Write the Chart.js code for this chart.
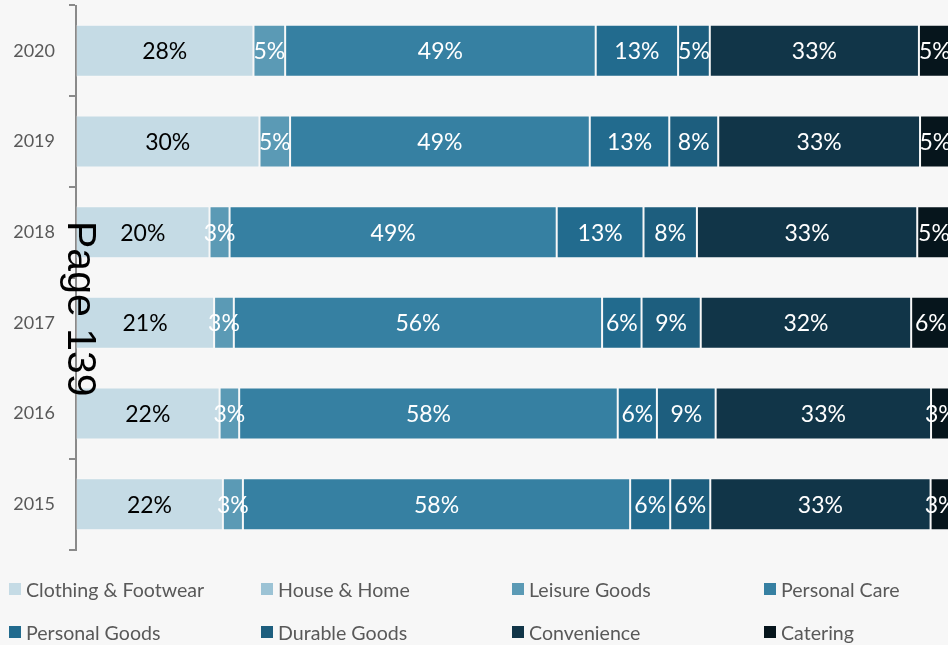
<!DOCTYPE html>
<html><head><meta charset="utf-8">
<script src="https://cdn.jsdelivr.net/npm/chart.js@4"></script>
<style>
html,body{margin:0;padding:0;background:#f7f7f7;}
#wrap{position:relative;width:948px;height:645px;overflow:hidden;background:#f7f7f7;}
#c{position:absolute;left:0;top:0;}
#legend{position:absolute;left:0;top:0;width:948px;height:645px;pointer-events:none;font-family:Lato,sans-serif;font-size:19.6px;color:#595959;}
.item{position:absolute;display:flex;align-items:center;white-space:nowrap;height:24px;}
.box{width:12px;height:12px;margin-right:5px;flex:none;}
#page{position:absolute;left:102px;top:221px;transform:rotate(90deg);transform-origin:0 0;font-family:"Liberation Sans",Arial,sans-serif;font-size:41px;line-height:40px;color:#000;white-space:nowrap;}
</style></head>
<body>
<div id="wrap">
<canvas id="c" width="948" height="645"></canvas>
<div id="legend"></div>
<div id="page">Page 139</div>
</div>
<script>
const years = ['2020','2019','2018','2017','2016','2015'];
const seriesNames = ['Clothing & Footwear','House & Home','Leisure Goods','Personal Care','Personal Goods','Durable Goods','Convenience','Catering'];
const clothing = [28,30,20,21,22,22];
const houseHome = [0,0,0,0,0,0];
const leisure = [5,5,3,3,3,3];
const personalCare = [49,49,49,56,58,58];
const personalGoods = [13,13,13,6,6,6];
const durable = [5,8,8,9,9,6];
const convenience = [33,33,33,32,33,33];
const catering = [5,5,5,6,3,3];
const seriesValues = [clothing,houseHome,leisure,personalCare,personalGoods,durable,convenience,catering];
const colors = ['#c5dbe5','#9cc3d5','#5b9ab5','#3680a2','#226b8e','#1d5e7e','#113548','#06151c'];
const labelColors = ['#000','#fff','#fff','#fff','#fff','#fff','#fff','#fff'];

// 100% stacked: each bar normalised to its own total
const totals = years.map((_,i)=>seriesValues.reduce((s,a)=>s+a[i],0));
const datasets = seriesNames.map((name,k)=>({
  label:name,
  data: seriesValues[k].map((v,i)=>v/totals[i]*100),
  raw: seriesValues[k],
  backgroundColor: colors[k],
  borderColor:'rgba(255,255,255,0.22)',
  borderWidth:1,
  borderSkipped:false,
  barPercentage:0.574,
  categoryPercentage:1
}));

const labelPlugin = {
  id:'segLabels',
  afterDatasetsDraw(chart){
    const ctx = chart.ctx;
    ctx.save();
    ctx.font = '23px Lato, sans-serif';
    ctx.textAlign='center';
    ctx.textBaseline='middle';
    chart.data.datasets.forEach((ds,k)=>{
      const meta = chart.getDatasetMeta(k);
      meta.data.forEach((el,i)=>{
        const v = ds.raw[i];
        if(!v) return;
        const p = el.getCenterPoint();
        ctx.fillStyle = labelColors[k];
        ctx.fillText(v+'%', p.x, p.y+1);
      });
    });
    ctx.restore();
  }
};

new Chart(document.getElementById('c'),{
  type:'bar',
  data:{labels:years,datasets},
  options:{
    indexAxis:'y',
    responsive:false,
    animation:false,
    events:[],
    layout:{padding:{top:5.5,bottom:95.5,left:0,right:0}},
    plugins:{legend:{display:false},tooltip:{enabled:false}},
    scales:{
      x:{stacked:true,display:false,min:0,max:99.7},
      y:{
        stacked:true,
        afterFit(s){s.width=76;s.paddingTop=0;s.paddingBottom=0;},
        grid:{display:true,drawOnChartArea:false,offset:true,tickLength:7,color:'#8a8a8a',lineWidth:2},
        border:{display:true,color:'#8a8a8a',width:2},
        ticks:{color:'#595959',font:{family:'Lato',size:18},padding:14}
      }
    }
  },
  plugins:[labelPlugin]
});

// legend in a 4-column grid
const legend = document.getElementById('legend');
const colX = [9,261,512,764];
const rowY = [577,620];
seriesNames.forEach((name,k)=>{
  const d = document.createElement('div');
  d.className='item';
  d.style.left = colX[k%4]+'px';
  d.style.top = rowY[Math.floor(k/4)]+'px';
  const b = document.createElement('span');
  b.className='box'; b.style.background = colors[k];
  const t = document.createElement('span');
  t.textContent = name;
  d.appendChild(b); d.appendChild(t);
  legend.appendChild(d);
});
</script>
</body></html>
